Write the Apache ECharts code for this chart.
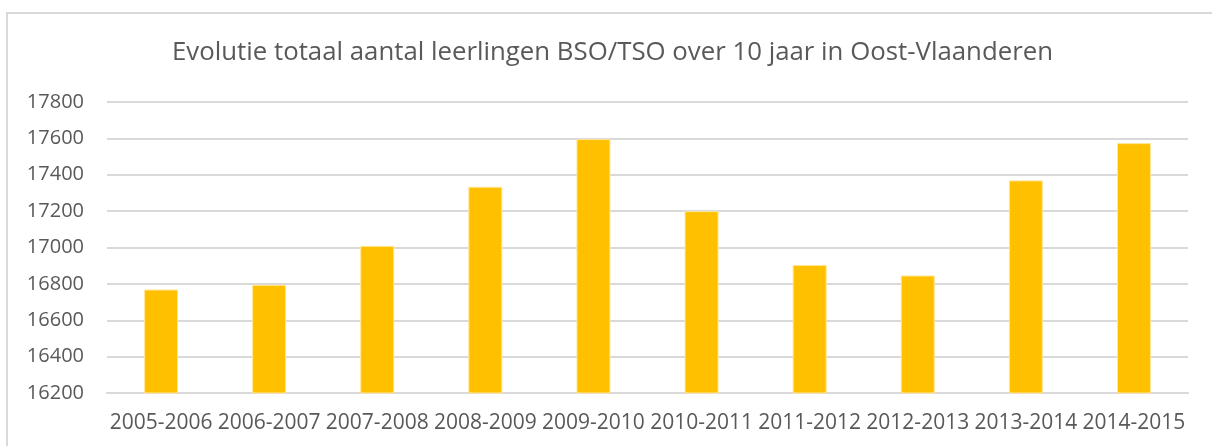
<!DOCTYPE html>
<html>
<head>
<meta charset="utf-8">
<script src="https://cdn.jsdelivr.net/npm/echarts@6/dist/echarts.min.js"></script>
<style>
    html, body { margin: 0; padding: 0; background: #fff; }
    #chart { width: 1212px; height: 446px; }
</style>
</head>
<body>
<div id="chart"></div>
<script>
var schooljaren = ['2005-2006', '2006-2007', '2007-2008', '2008-2009', '2009-2010',
    '2010-2011', '2011-2012', '2012-2013', '2013-2014', '2014-2015'];
var leerlingen = [16769, 16795, 17009, 17334, 17596, 17200, 16904, 16846, 17369, 17574];
var yMin = 16200;
var yMax = 17800;
var yStap = 200;

var chart = echarts.init(document.getElementById('chart'));
var tekstKleur = '#595959';
var lijnKleur = '#d9d9d9';

var option = {
    backgroundColor: '#fff',
    animation: false,
    textStyle: { fontFamily: 'Open Sans' },
    title: {
        text: 'Evolutie totaal aantal leerlingen BSO/TSO over 10 jaar in Oost-Vlaanderen',
        left: 167,
        top: 35,
        textStyle: {
            color: tekstKleur,
            fontSize: 25.8,
            fontWeight: 'normal',
            fontFamily: 'Open Sans'
        }
    },
    graphic: [{
        type: 'rect',
        shape: { x: 7, y: 13, width: 1230, height: 460 },
        style: { fill: 'none', stroke: lijnKleur, lineWidth: 2 },
        silent: true
    }],
    grid: {
        left: 107,
        right: 24,
        top: 102,
        bottom: 53
    },
    xAxis: {
        type: 'category',
        data: schooljaren,
        axisTick: { show: false },
        axisLine: { lineStyle: { color: lijnKleur, width: 2 } },
        axisLabel: {
            color: tekstKleur,
            fontSize: 21,
            interval: 0,
            margin: 20
        }
    },
    yAxis: {
        type: 'value',
        min: yMin,
        max: yMax,
        interval: yStap,
        axisLine: { show: false },
        axisTick: { show: false },
        axisLabel: {
            color: tekstKleur,
            fontSize: 20,
            margin: 23,
            formatter: function (v) {
                return String(v);
            }
        },
        splitLine: { lineStyle: { color: lijnKleur, width: 2 } }
    },
    series: [{
        type: 'bar',
        data: leerlingen,
        barWidth: 34,
        itemStyle: {
            color: '#FFC000',
            borderColor: '#ffe699',
            borderWidth: 1
        }
    }]
};

chart.setOption(option);
</script>
</body>
</html>
